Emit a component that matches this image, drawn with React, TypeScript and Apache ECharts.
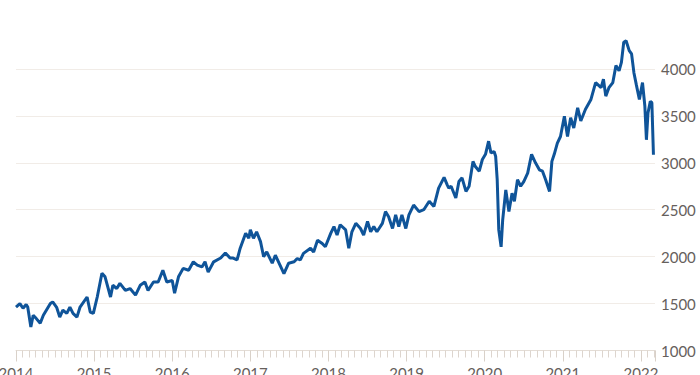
import React, { useEffect, useRef } from "react";
import * as echarts from "echarts";

// Time in years after 2014 (decimal) and index values
const yearOffsets = [
  0.0, 0.05, 0.09, 0.13, 0.15, 0.19, 0.22, 0.26, 0.31, 0.35, 0.44, 0.47, 0.52, 0.56, 0.6, 0.65, 0.69, 0.73, 0.78, 0.82,
  0.91, 0.95, 0.99, 1.04, 1.1, 1.14, 1.21, 1.24, 1.29, 1.33, 1.4, 1.46, 1.53, 1.59, 1.65, 1.69, 1.76, 1.82, 1.88, 1.93,
  2.0, 2.03, 2.08, 2.14, 2.21, 2.27, 2.32, 2.38, 2.42, 2.46, 2.53, 2.62, 2.68, 2.74, 2.78, 2.83, 2.87, 2.94, 2.98, 3.0,
  3.04, 3.08, 3.13, 3.17, 3.21, 3.28, 3.32, 3.36, 3.43, 3.49, 3.56, 3.6, 3.64, 3.68, 3.77, 3.81, 3.86, 3.92, 3.96, 4.03,
  4.07, 4.11, 4.15, 4.22, 4.26, 4.3, 4.35, 4.41, 4.45, 4.5, 4.54, 4.58, 4.62, 4.69, 4.73, 4.77, 4.82, 4.86, 4.9, 4.94,
  4.99, 5.03, 5.09, 5.16, 5.22, 5.29, 5.35, 5.41, 5.48, 5.52, 5.54, 5.57, 5.63, 5.67, 5.71, 5.76, 5.8, 5.85, 5.88, 5.93,
  5.97, 6.01, 6.05, 6.08, 6.12, 6.14, 6.16, 6.18, 6.21, 6.23, 6.27, 6.31, 6.35, 6.38, 6.42, 6.46, 6.5, 6.55, 6.6, 6.65,
  6.7, 6.74, 6.78, 6.83, 6.86, 6.89, 6.93, 6.97, 7.02, 7.06, 7.1, 7.14, 7.19, 7.23, 7.29, 7.36, 7.42, 7.49, 7.52, 7.55,
  7.59, 7.64, 7.68, 7.72, 7.75, 7.78, 7.81, 7.85, 7.88, 7.91, 7.94, 7.98, 8.02, 8.05, 8.07, 8.09, 8.12, 8.14, 8.16,
];
const indexValues = [
  1463, 1500, 1450, 1490, 1463, 1250, 1375, 1340, 1290, 1375, 1500, 1517, 1460, 1356, 1430, 1395, 1463, 1395, 1356, 1463,
  1570, 1410, 1395, 1570, 1823, 1785, 1570, 1695, 1660, 1715, 1640, 1660, 1590, 1695, 1730, 1640, 1730, 1730, 1855, 1730,
  1745, 1610, 1785, 1875, 1855, 1945, 1910, 1890, 1945, 1835, 1945, 1985, 2040, 1985, 1985, 1965, 2090, 2250, 2195, 2285,
  2195, 2265, 2160, 2000, 2050, 1930, 2015, 1945, 1820, 1930, 1945, 1980, 1965, 2035, 2090, 2050, 2175, 2140, 2105, 2250,
  2320, 2230, 2340, 2285, 2090, 2265, 2355, 2300, 2230, 2375, 2265, 2320, 2265, 2355, 2480, 2425, 2300, 2445, 2320, 2445,
  2300, 2445, 2550, 2480, 2500, 2590, 2535, 2730, 2845, 2765, 2730, 2750, 2625, 2800, 2840, 2695, 2750, 3015, 2960, 2910,
  3035, 3090, 3230, 3105, 3120, 3070, 2820, 2285, 2105, 2390, 2710, 2480, 2675, 2590, 2820, 2750, 2800, 2890, 3090, 3000,
  2925, 2910, 2820, 2695, 3015, 3090, 3210, 3280, 3495, 3280, 3480, 3370, 3585, 3445, 3570, 3675, 3855, 3800, 3890, 3710,
  3800, 3855, 4035, 3980, 4070, 4285, 4300, 4195, 4160, 3960, 3835, 3675, 3855, 3605, 3245, 3530, 3655, 3640, 3085,
];
const startYear = 2014;
const endYear = 2022.18;
const yMin = 1000;
const yMax = 4500;
const yStep = 500;
const titleText = "Stock index";

export default function App() {
  const ref = useRef<HTMLDivElement>(null);
  useEffect(() => {
    if (!ref.current) return;
    const chart = echarts.init(ref.current, null, { renderer: "svg" });
    const data = yearOffsets.map((t, i) => [startYear + t, indexValues[i]]);
    const nLines = (yMax - yMin) / yStep + 1;
    const gridColors = Array.from({ length: nLines }, (_, i) =>
      i === nLines - 1 ? "rgba(0,0,0,0)" : "#f1ece7"
    );
    chart.setOption({
      animation: false,
      textStyle: { fontFamily: "Lato, sans-serif" },
      graphic: [
        {
          type: "text",
          left: 0,
          top: -16,
          style: { text: titleText, fontSize: 15, fill: "#66605c", fontFamily: "Lato, sans-serif" },
        },
      ],
      grid: { left: 16, right: 45, top: 22, bottom: 24.5, outerBoundsMode: "none", containLabel: false },
      xAxis: {
        type: "value",
        min: startYear,
        max: endYear,
        interval: 1,
        axisLine: { show: true, lineStyle: { color: "#e4ddd6", width: 1 } },
        axisTick: { show: true, length: 11, lineStyle: { color: "#d9d1c9" } },
        minorTick: { show: true, splitNumber: 12, length: 7, lineStyle: { color: "#ddd5ce" } },
        splitLine: { show: false },
        axisLabel: {
          color: "#66605c",
          fontSize: 15,
          margin: 15,
          showMaxLabel: false,
          hideOverlap: false,
          formatter: (v: number) => (Math.abs(v - Math.round(v)) < 1e-6 ? String(Math.round(v)) : ""),
        },
      },
      yAxis: {
        type: "value",
        position: "right",
        min: yMin,
        max: yMax,
        interval: yStep,
        axisLine: { show: false },
        axisTick: { show: false },
        splitLine: { show: true, lineStyle: { color: gridColors, width: 1 } },
        axisLabel: {
          color: "#66605c",
          fontSize: 15,
          margin: 6,
          align: "left",
          formatter: (v: number) => (v >= yMax ? "" : String(v)),
        },
      },
      series: [
        {
          type: "line",
          data,
          showSymbol: false,
          symbol: "none",
          lineStyle: { color: "#0f5499", width: 3 },
          z: 3,
        },
      ],
    });
    return () => chart.dispose();
  }, []);
  return <div ref={ref} style={{ width: 700, height: 375, position: "absolute", left: 0, top: 0 }} />;
}
